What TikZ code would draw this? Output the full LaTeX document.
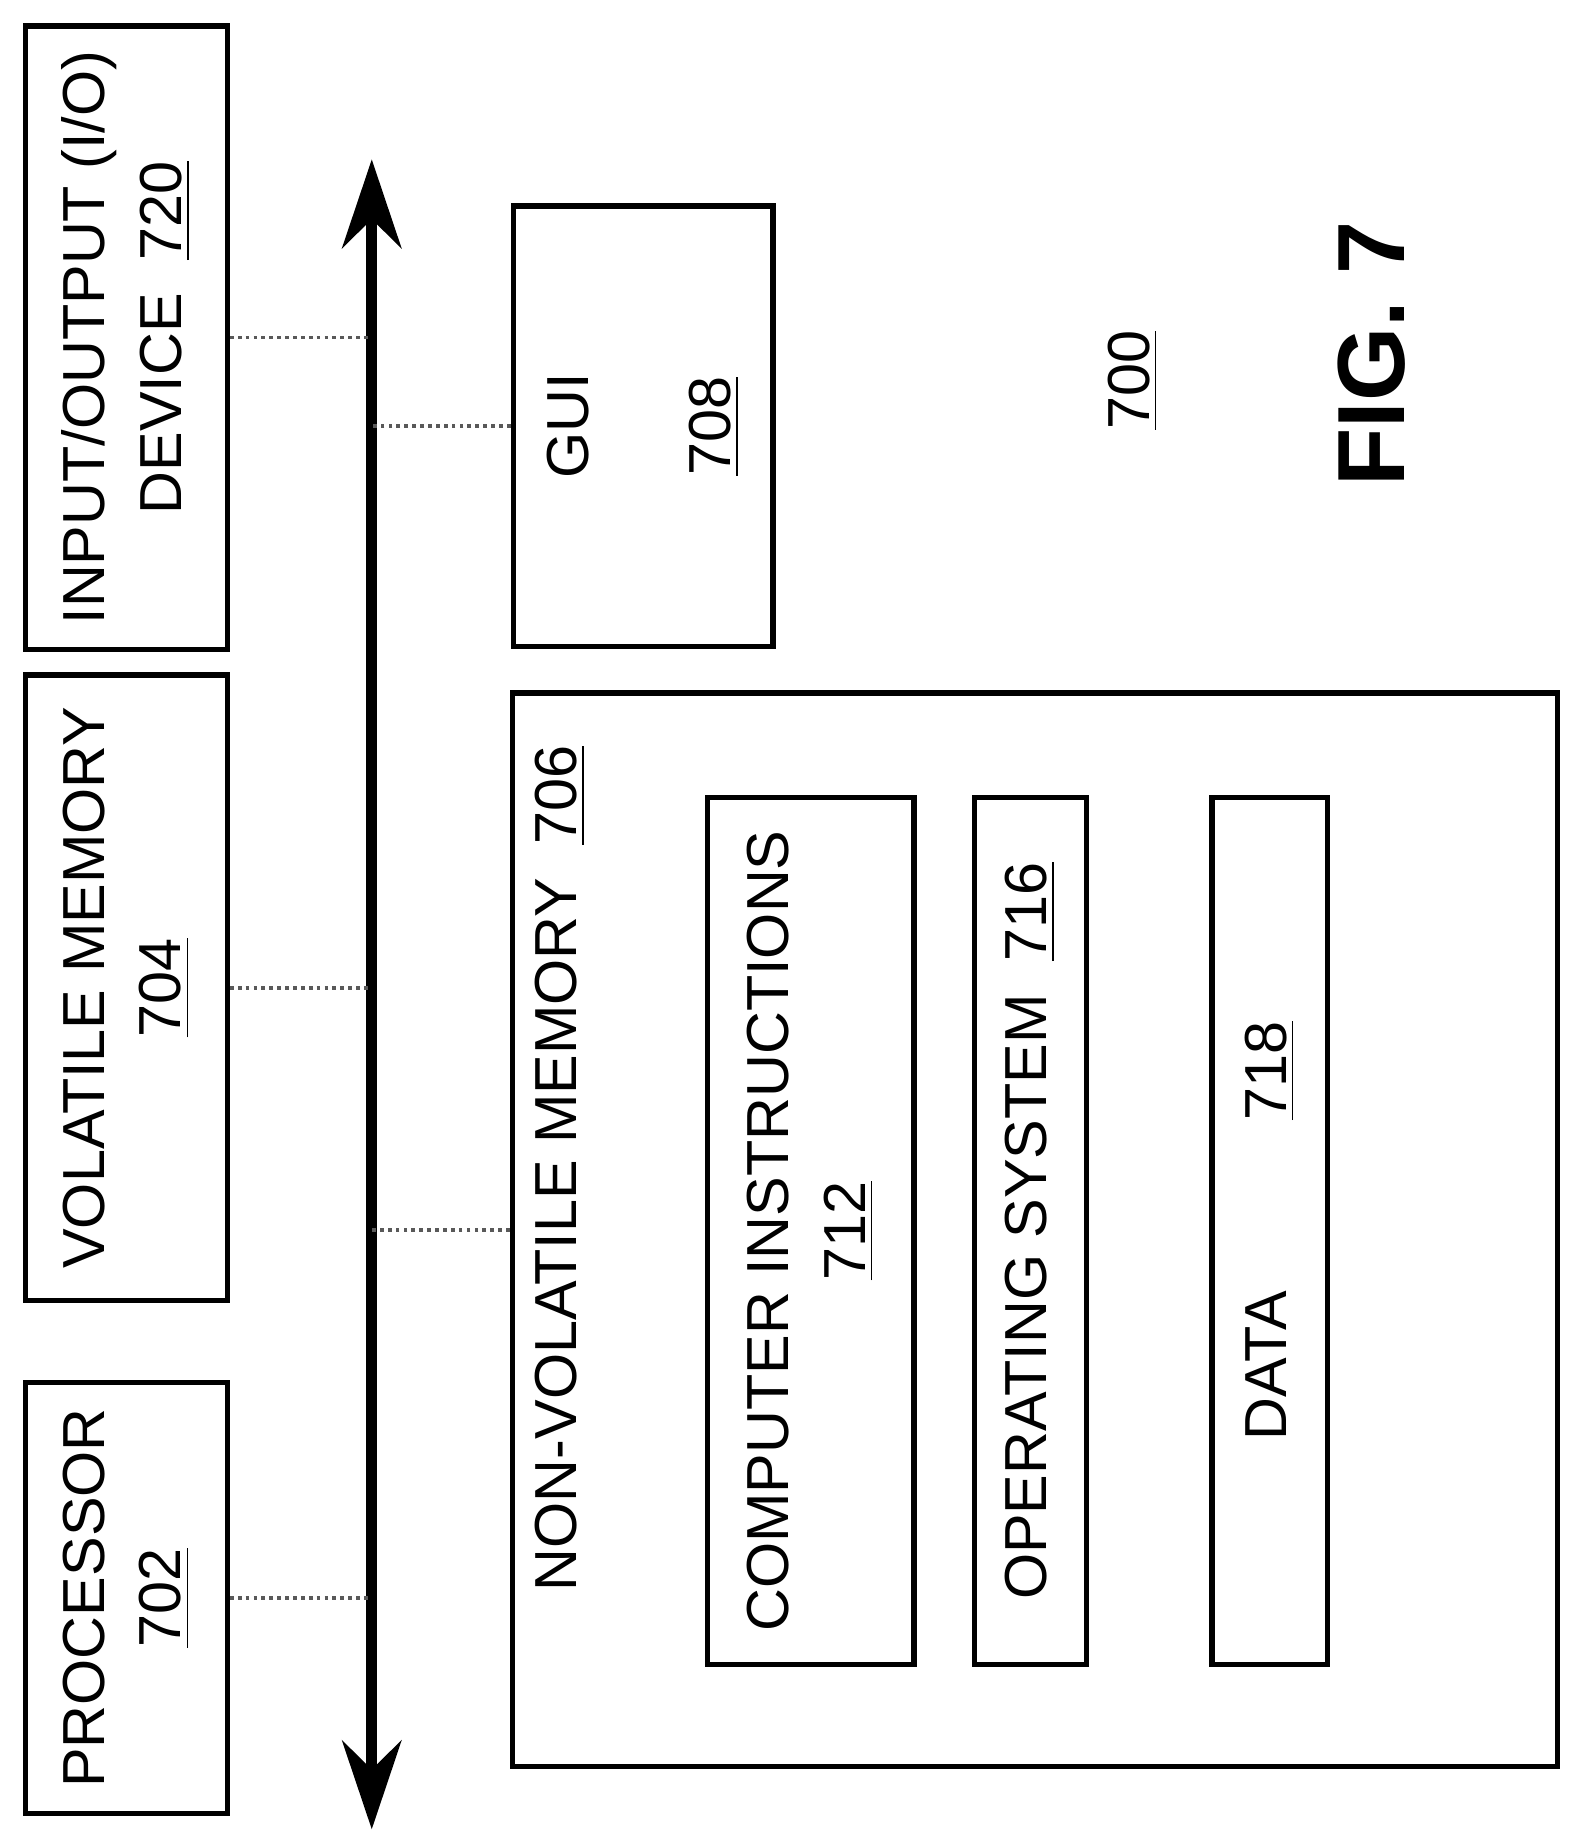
\documentclass[tikz,border=0pt]{standalone}
\usepackage{fontspec}
\setmainfont{Liberation Sans}
\usetikzlibrary{arrows.meta, positioning}
\tikzset{
	x=0.01cm, y=-0.01cm,
	box/.style={draw, line width=1.3pt, rotate=90, inner sep=0pt, align=center, font=\fontsize{14.3}{18.5}\selectfont},
	label/.style={rotate=90, align=center, font=\fontsize{14.3}{18.5}\selectfont},
	link/.style={densely dotted, line width=0.9pt, gray!70!black},
	bus/.style={{Stealth[length=0.75cm,width=0.5cm]}-{Stealth[length=0.75cm,width=0.5cm]}, line width=2.6pt}}

\begin{document}
\begin{tikzpicture}
	\useasboundingbox (0,0) rectangle (1340,1565);
	
	\node[box, minimum width=3.65cm, minimum height=1.71cm] (proc) at (107,1354) {PROCESSOR\\\underline{702}};
	\node[box, minimum width=5.30cm, minimum height=1.71cm] (vol) at (107,837) {VOLATILE MEMORY\\\underline{704}};
	\node[box, minimum width=5.28cm, minimum height=1.71cm] (io) at (107,286) {INPUT/OUTPUT (I/O)\\DEVICE\ \ \underline{720}};
	\node[box, minimum width=3.73cm, minimum height=2.20cm] (gui) at (545,361) {GUI\\[0.55cm]\underline{708}};
	\node[box, minimum width=9.09cm, minimum height=8.85cm] (nvm) at (877,1042) {};
	\node[label] (nvmlabel) at (475,990) {NON-VOLATILE MEMORY\ \ \underline{706}};
	\node[box, minimum width=7.34cm, minimum height=1.75cm] (instr) at (687,1043) {COMPUTER INSTRUCTIONS\\\underline{712}};
	\node[box, minimum width=7.34cm, minimum height=0.95cm] (os) at (873,1043) {OPERATING SYSTEM\ \ \underline{716}};
	\node[box, minimum width=7.34cm, minimum height=0.98cm] (data) at (1076,1043) {DATA\hspace{1.45cm}\underline{718}};
	\node[label] (num) at (960,322) {\underline{700}};
	\node[label, font=\fontsize{23}{27}\selectfont\bfseries] (fig) at (1162,300) {FIG. 7};
	
	\coordinate (bustop) at (315,135);
	\coordinate (busbot) at (315,1550);
	\draw[bus] (busbot) -- (bustop);
	
	\draw[link] (proc.south) -- (proc.south -| bustop);
	\draw[link] (vol.south) -- (vol.south -| bustop);
	\draw[link] (io.south) -- (io.south -| bustop);
	\draw[link] (gui.north) -- (gui.north -| bustop);
	\draw[link] (nvm.north) -- (nvm.north -| bustop);
	
\end{tikzpicture}
\end{document}
